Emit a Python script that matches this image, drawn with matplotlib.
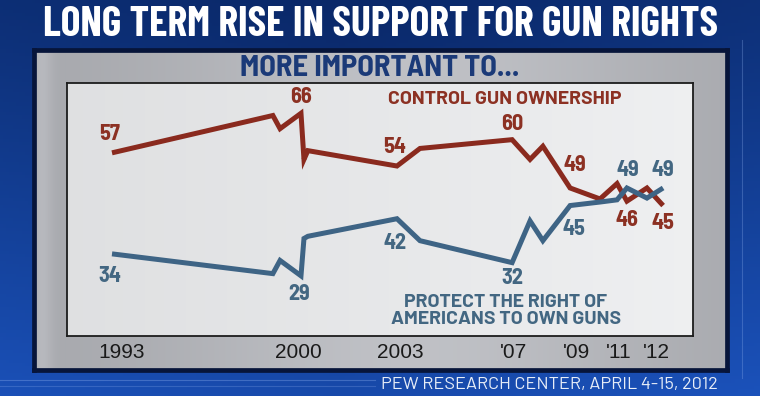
import matplotlib
matplotlib.use('Agg')
import matplotlib.pyplot as plt
import numpy as np
from matplotlib import font_manager as fm

# ---------------- data ----------------
years = [1993.9, 1999.28, 1999.52, 2000.22, 2000.32, 2000.45, 2003.43, 2004.2,
         2007.28, 2007.88, 2008.31, 2009.22, 2010.22, 2010.79, 2011.12, 2011.79, 2012.33]
control = [57, 65.5, 62.5, 66, 55.5, 57.5, 54, 58, 60, 55.5, 58.5, 49, 46.5, 50, 46, 49, 45]
protect = [34, 29.5, 32.5, 29, 37.5, 38, 42, 37, 32, 41.5, 37, 45, 45.8, 46.3, 49, 46.7, 49]
tick_pos = [1994.23, 2000.12, 2003.53, 2007.34, 2009.45, 2010.86, 2012.09]
tick_labels = ['1993', '2000', '2003', "'07", "'09", "'11", "'12"]
control_labelled = [0, 3, 6, 8, 11, 14, 16]
protect_labelled = [0, 3, 6, 8, 11, 14, 16]
title = 'LONG TERM RISE IN SUPPORT FOR GUN RIGHTS'
subtitle = 'MORE IMPORTANT TO...'
control_name = 'CONTROL GUN OWNERSHIP'
protect_name = 'PROTECT THE RIGHT OF\nAMERICANS TO OWN GUNS'
source = 'PEW RESEARCH CENTER, APRIL 4-15, 2012'

# ---------------- fonts ----------------
names = sorted({f.name for f in fm.fontManager.ttflist})
def pick(cands, default='DejaVu Sans'):
    for c in cands:
        if c in names:
            return c
    return default
TCOND = pick(['Barlow Condensed', 'Roboto Condensed', 'Liberation Sans Narrow'], 'Liberation Sans')
SEMI = pick(['Barlow Semi Condensed', 'Barlow Condensed', 'Roboto Condensed'], 'Liberation Sans')
WIDE = pick(['Barlow', 'Barlow Semi Condensed', 'Liberation Sans'], 'DejaVu Sans')
YEARF = pick(['Liberation Sans'], 'DejaVu Sans')

RED = '#8a2a1e'
RED_T = '#8c3123'
BLUE = '#3e6485'
BLUE_T = '#436782'

W, H = 760, 396
fig = plt.figure(figsize=(W / 100, H / 100), dpi=100)

def px_axes(x0, y0, x1, y1, **kw):
    return fig.add_axes([x0 / W, 1 - y1 / H, (x1 - x0) / W, (y1 - y0) / H], **kw)

def ftext(x, y, s, **kw):
    return fig.text(x / W, 1 - y / H, s, **kw)

# background gradient
bg = fig.add_axes([0, 0, 1, 1])
bg.axis('off')
ny, nx = 120, 240
yy = np.linspace(0, 1, ny)[:, None]
xx = np.linspace(0, 1, nx)[None, :]
top = np.array([0x0a, 0x28, 0x68]) / 255
bot = np.array([0x1b, 0x52, 0xbb]) / 255
t = np.clip(0.8 * yy ** 1.1 + 0.22 * np.abs(xx - 0.45) * 1.6, 0, 1)
img = top * (1 - t)[..., None] + bot * t[..., None]
bg.imshow(img, extent=[0, 1, 0, 1], aspect='auto', zorder=0)
bg.set_xlim(0, 1); bg.set_ylim(0, 1)
# faint decorative frame lines
for yline, a in ((380, 0.35), (386, 0.25)):
    bg.plot([0, 375 / W], [1 - yline / H] * 2, color='#8fb0ee', lw=0.8, alpha=a)
bg.plot([742 / W] * 2, [1 - 40 / H, 1 - 378 / H], color='#8fb0ee', lw=0.8, alpha=0.3)

# grey panel
panel = px_axes(34, 50, 727, 370)
g = np.linspace(0, 1, 300)[None, :]
gl = 0.65 + 0.10 * np.exp(-((g - 0.55) / 0.35) ** 2) + 0.06 * np.exp(-((g - 0.01) / 0.015) ** 2)
gimg = np.repeat(np.stack([gl, gl + 0.006, gl + 0.025], axis=-1), 10, axis=0)
panel.imshow(np.clip(gimg, 0, 1), extent=[0, 1, 0, 1], aspect='auto')
panel.set_xticks([]); panel.set_yticks([])
for s in panel.spines.values():
    s.set_color('#07153a'); s.set_linewidth(3.4)

# main plot area
ax = px_axes(67, 83, 693, 336)
xl = (1992.395, 2013.33)
yl = (15.3, 72.9)
w = np.linspace(0, 1, 200)[None, :]
wl = 0.875 + 0.06 * w
wimg = np.repeat(np.stack([wl, wl + 0.004, wl + 0.01], axis=-1), 5, axis=0)
ax.imshow(np.clip(wimg, 0, 1), extent=[xl[0], xl[1], yl[0], yl[1]], aspect='auto', zorder=0)
for s in ax.spines.values():
    s.set_color('#1c1c1c'); s.set_linewidth(1.3)
ax.plot(years, control, color=RED, lw=3.6, solid_joinstyle='miter', solid_capstyle='butt', zorder=3)
ax.plot(years, protect, color=BLUE, lw=3.6, solid_joinstyle='miter', solid_capstyle='butt', zorder=3)
ax.set_xlim(*xl)
ax.set_ylim(*yl)
ax.set_yticks([])
ax.set_xticks(tick_pos, tick_labels)
ax.tick_params(axis='x', length=0, pad=5, labelsize=15, labelcolor='#1a1a1a')
for lab in ax.get_xticklabels():
    lab.set_fontfamily(YEARF)

c_off = [(-2, 19), (0, 16), (-2, 19), (0, 16), (5, 23), (0, -19), (0, -17)]
p_off = [(-2, -22), (-2, -18), (-2, -24), (0, -15), (4, -23), (1, 18), (0, 18)]
for i, off in zip(control_labelled, c_off):
    ax.annotate(f'{control[i]:.0f}', (years[i], control[i]), xytext=off, textcoords='offset pixels',
                ha='center', va='center', color=RED_T, fontsize=16, fontweight='bold', family=SEMI, zorder=4)
for i, off in zip(protect_labelled, p_off):
    ax.annotate(f'{protect[i]:.0f}', (years[i], protect[i]), xytext=off, textcoords='offset pixels',
                ha='center', va='center', color=BLUE_T, fontsize=16, fontweight='bold', family=SEMI, zorder=4)

# texts
ftext(381, 25, title, ha='center', va='center', color='white', fontsize=30, fontweight='bold', family=TCOND)
ftext(380, 68, subtitle, ha='center', va='center', color='#1b3a78', fontsize=22, fontweight='bold', family=SEMI)
ftext(505, 99, control_name, ha='center', va='center', color=RED_T, fontsize=14, fontweight='bold', family=WIDE)
ftext(506, 311, protect_name, ha='center', va='center', color=BLUE_T, fontsize=14, fontweight='bold',
      family=WIDE, linespacing=1.0)
ftext(718, 385, source, ha='right', va='center', color='#e8eef8', fontsize=13, family=WIDE)

fig.savefig('out.png', dpi=100)
